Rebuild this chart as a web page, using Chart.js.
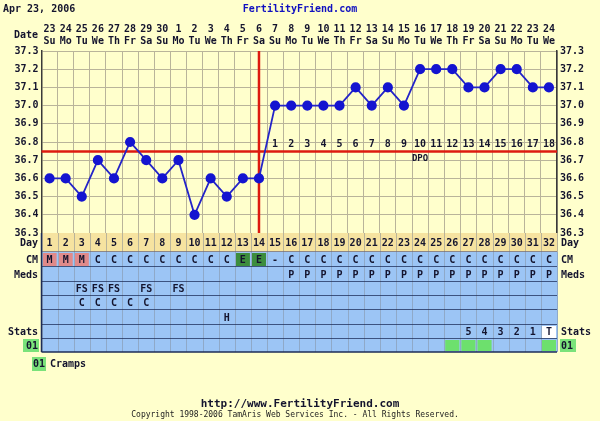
<!DOCTYPE html>
<html>
<head>
<meta charset="utf-8">
<script src="https://cdn.jsdelivr.net/npm/chart.js@4"></script>
<style>
  html, body { margin: 0; padding: 0; background: #FFFFCC; }
  canvas { display: block; }
</style>
</head>
<body>
<canvas id="ffChart" width="600" height="421"></canvas>
<script>
// ---=== DATA ===---
const chartDate = "Apr 23, 2006";
const cycleDays = [1,2,3,4,5,6,7,8,9,10,11,12,13,14,15,16,17,18,19,20,21,22,23,24,25,26,27,28,29,30,31,32];
const dates = ["23","24","25","26","27","28","29","30","1","2","3","4","5","6","7","8","9","10","11","12","13","14","15","16","17","18","19","20","21","22","23","24"];
const weekdays = ["Su","Mo","Tu","We","Th","Fr","Sa","Su","Mo","Tu","We","Th","Fr","Sa","Su","Mo","Tu","We","Th","Fr","Sa","Su","Mo","Tu","We","Th","Fr","Sa","Su","Mo","Tu","We"];
const temps = [36.6,36.6,36.5,36.7,36.6,36.8,36.7,36.6,36.7,36.4,36.6,36.5,36.6,36.6,37.0,37.0,37.0,37.0,37.0,37.1,37.0,37.1,37.0,37.2,37.2,37.2,37.1,37.1,37.2,37.2,37.1,37.1];
const coverline = 36.75;
const ovulationDay = 14;
const dpo = ["","","","","","","","","","","","","","","1","2","3","4","5","6","7","8","9","10","11","12","13","14","15","16","17","18"];
const cm = ["M","M","M","C","C","C","C","C","C","C","C","C","E","E","-","C","C","C","C","C","C","C","C","C","C","C","C","C","C","C","C","C"];
const meds = ["","","","","","","","","","","","","","","","P","P","P","P","P","P","P","P","P","P","P","P","P","P","P","P","P"];
const intercourseFS = ["","","FS","FS","FS","","FS","","FS","","","","","","","","","","","","","","","","","","","","","","",""];
const intercourseC = ["","","C","C","C","C","C","","","","","","","","","","","","","","","","","","","","","","","","",""];
const opkRow = ["","","","","","","","","","","","H","","","","","","","","","","","","","","","","","","","",""];
const stats = ["","","","","","","","","","","","","","","","","","","","","","","","","","","5","4","3","2","1","T"];
const cramps = [0,0,0,0,0,0,0,0,0,0,0,0,0,0,0,0,0,0,0,0,0,0,0,0,0,1,1,1,0,0,0,1];
const yTicks = { min: 36.3, max: 37.3, step: 0.1 };

// ---=== STYLING ===---
const FONT = "'DejaVu Sans Mono', monospace";
const BOLD = "bold 10px " + FONT;
const INK = "#14142e";
const GRID = "#b9b49a";
const BLUE_ROW = "#9cc5f5";
const TAN_ROW = "#f6e3a0";
const NAVY = "#1c2c58";

const ffPlugin = {
  id: "ffTable",
  beforeDatasetsDraw(chart) {
    const { ctx, chartArea: a, scales: { x, y } } = chart;
    ctx.save();
    ctx.strokeStyle = "#dd1a10";
    ctx.lineWidth = 2.5;
    const yc = Math.round(y.getPixelForValue(coverline)) + 0.5;
    ctx.beginPath(); ctx.moveTo(a.left, yc); ctx.lineTo(a.right, yc); ctx.stroke();
    const xo = x.getPixelForValue(ovulationDay - 1);
    ctx.beginPath(); ctx.moveTo(xo, a.top); ctx.lineTo(xo, a.bottom + 2); ctx.stroke();
    ctx.restore();
  },
  afterDraw(chart) {
    const { ctx, chartArea: a, scales: { x, y } } = chart;
    const colW = x.getPixelForValue(1) - x.getPixelForValue(0);
    const cx = i => x.getPixelForValue(i);
    const text = (s, px, py, align, font, color) => {
      ctx.font = font || BOLD;
      ctx.fillStyle = color || INK;
      ctx.textAlign = align || "center";
      ctx.textBaseline = "middle";
      ctx.fillText(s, px, py);
    };
    ctx.save();

    // title + header
    text(chartDate, 3, 9, "left");
    text("FertilityFriend.com", 300, 9, "center", BOLD, "#1010c0");
    text("Date", 38, 35, "right");
    cycleDays.forEach((d, i) => {
      text(dates[i], cx(i), 29);
      text(weekdays[i], cx(i), 41);
    });

    // DPO labels
    const yc = y.getPixelForValue(coverline);
    dpo.forEach((s, i) => { if (s) text(s, cx(i), yc - 7); });
    text("DPO", cx(23), yc + 8, "center", "bold 9px " + FONT);

    // table rows
    const rows = [
      { h: 19, bg: TAN_ROW, vals: cycleDays.map(String), left: "Day", right: "Day" },
      { h: 15, bg: BLUE_ROW, vals: cm, left: "CM", right: "CM" },
      { h: 15, bg: BLUE_ROW, vals: meds, left: "Meds", right: "Meds" },
      { h: 14, bg: BLUE_ROW, vals: intercourseFS },
      { h: 14, bg: BLUE_ROW, vals: intercourseC },
      { h: 15, bg: BLUE_ROW, vals: opkRow },
      { h: 14, bg: BLUE_ROW, vals: stats, left: "Stats", right: "Stats" },
      { h: 13, bg: BLUE_ROW, vals: cramps.map(() => ""), cramps: true, left: "01", right: "01" }
    ];
    let top = a.bottom;
    rows.forEach((r, ri) => {
      ctx.fillStyle = r.bg;
      ctx.fillRect(a.left, top, a.right - a.left, r.h);
      r.vals.forEach((v, i) => {
        const x0 = cx(i) - colW / 2;
        let bg = null;
        if (ri === 1 && v === "M") bg = "#e08a8a";
        if (ri === 1 && v === "E") bg = "#3d8d3d";
        if (ri === 6 && v === "T") bg = "#ffffff";
        if (r.cramps && cramps[i]) bg = "#6de06d";
        if (bg) { ctx.fillStyle = bg; ctx.fillRect(x0 + 1, top + 1, colW - 2, r.h - 2); }
        if (v) text(v, cx(i), top + r.h / 2 + 0.5);
      });
      // column separators
      ctx.strokeStyle = ri === 0 ? GRID : "#8fa9c8";
      ctx.lineWidth = 1;
      for (let i = 0; i <= cycleDays.length; i++) {
        const xx = Math.round(cx(i) - colW / 2) + 0.5;
        ctx.beginPath(); ctx.moveTo(xx, top); ctx.lineTo(xx, top + r.h); ctx.stroke();
      }
      // row labels
      if (r.left) {
        if (r.cramps) {
          ctx.fillStyle = "#7ae27a";
          ctx.fillRect(23, top, 16, r.h);
          ctx.fillRect(560, top, 16, r.h);
          text(r.left, 38, top + r.h / 2 + 0.5, "right");
          text(r.right, 561, top + r.h / 2 + 0.5, "left");
        } else {
          text(r.left, 38, top + r.h / 2 + 0.5, "right");
          text(r.right, 561, top + r.h / 2 + 0.5, "left");
        }
      }
      top += r.h;
      // row separator
      ctx.strokeStyle = ri === 0 ? "#6a6a80" : NAVY;
      ctx.lineWidth = 1.5;
      ctx.beginPath(); ctx.moveTo(a.left, top); ctx.lineTo(a.right, top); ctx.stroke();
    });
    ctx.strokeStyle = NAVY;
    ctx.lineWidth = 1.5;
    ctx.beginPath(); ctx.moveTo(a.left, a.bottom); ctx.lineTo(a.left, top); ctx.stroke();

    // legend
    ctx.fillStyle = "#7ae27a";
    ctx.fillRect(32, 357, 14, 14);
    text("01", 39, 364.5, "center");
    text("Cramps", 50, 364.5, "left");

    // footer
    text("http://www.FertilityFriend.com", 300, 404, "center", "bold 11px " + FONT);
    text("Copyright 1998-2006 TamAris Web Services Inc. - All Rights Reserved.", 295, 415, "center", "8px " + FONT, "#222");
    ctx.restore();
  }
};

const yAxis = (pos, width) => ({
  position: pos,
  min: yTicks.min,
  max: yTicks.max,
  afterFit: s => { s.width = width; },
  ticks: {
    stepSize: yTicks.step,
    padding: 3,
    color: INK,
    font: { family: FONT, size: 10, weight: "bold" },
    callback: v => Number(v).toFixed(1)
  },
  grid: { display: pos === "left", color: GRID, drawTicks: false },
  border: { color: "#3a3a3a", width: 1.5 }
});

new Chart(document.getElementById("ffChart").getContext("2d"), {
  type: "line",
  data: {
    labels: cycleDays,
    datasets: [{
      data: temps,
      borderColor: "#2424c8",
      backgroundColor: "#1414d0",
      pointBackgroundColor: "#1414d0",
      pointBorderColor: "#1414d0",
      pointRadius: 4.2,
      borderWidth: 1.8,
      tension: 0,
      fill: false
    }]
  },
  options: {
    responsive: false,
    animation: false,
    layout: { padding: { top: 51, bottom: 188, left: 0, right: 0 } },
    plugins: { legend: { display: false }, tooltip: { enabled: false } },
    scales: {
      x: {
        offset: true,
        afterFit: s => { s.height = 0; },
        ticks: { display: false },
        grid: { offset: true, color: GRID, drawTicks: false },
        border: { display: false }
      },
      y: yAxis("left", 41.5),
      y2: yAxis("right", 43)
    }
  },
  plugins: [ffPlugin]
});
</script>
</body>
</html>
